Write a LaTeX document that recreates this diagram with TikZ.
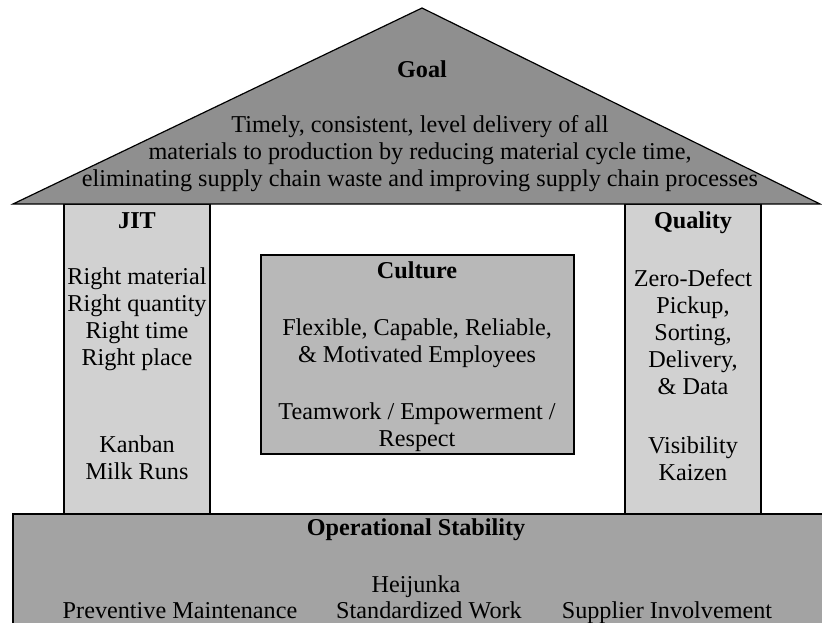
\documentclass[tikz,border=0pt]{standalone}
\usepackage{fontspec}
\setmainfont{Liberation Serif}
\definecolor{roofgray}{gray}{0.56}
\definecolor{basegray}{gray}{0.64}
\definecolor{pillargray}{gray}{0.82}
\definecolor{culturegray}{gray}{0.72}
\begin{document}
\begin{tikzpicture}[x=1pt,y=-1pt,
  txt/.style={anchor=base, align=center, inner sep=0pt, font=\fontsize{24.2}{27}\selectfont},
  head/.style={txt, font=\fontsize{24.2}{27}\selectfont\bfseries},
  part/.style={draw=black, line width=1.2pt}]
  \useasboundingbox (0,0) rectangle (822,622);

  % foundation
  \filldraw[part, fill=basegray] (13,514) rectangle (830,630);
  % pillars and culture
  \filldraw[part, fill=pillargray] (64,204) rectangle (210,514);
  \filldraw[part, fill=pillargray] (625,204) rectangle (761,514);
  \filldraw[part, fill=culturegray] (261,255) rectangle (574,454);
  % roof
  \filldraw[part, fill=roofgray, line join=miter] (13,204) -- (422,8) -- (820,204) -- cycle;

  % base anchor of a block = baseline of its last line
  \node[head] (goal) at (422,77) {Goal};
  \node[txt] (goaltext) at (420,186) {Timely, consistent, level delivery of all\\
    materials to production by reducing material cycle time,\\
    eliminating supply chain waste and improving supply chain processes};

  \node[head] (jit) at (137,228) {JIT};
  \node[txt] (right) at (137,365) {Right material\\Right quantity\\Right time\\Right place};
  \node[txt] (kanban) at (137,479) {Kanban\\Milk Runs};

  \node[head] (culture) at (417,278) {Culture};
  \node[txt] (people) at (417,362) {Flexible, Capable, Reliable,\\\& Motivated Employees};
  \node[txt] (team) at (417,446) {Teamwork / Empowerment /\\Respect};

  \node[head] (quality) at (693,228) {Quality};
  \node[txt] (zero) at (693,394) {Zero-Defect\\Pickup,\\Sorting,\\Delivery,\\\& Data};
  \node[txt] (kaizen) at (693,480) {Visibility\\Kaizen};

  \node[head] (stability) at (416,535) {Operational Stability};
  \node[txt] (heijunka) at (416,592) {Heijunka};
  \node[txt] (pm) at (180,618) {Preventive Maintenance};
  \node[txt] (sw) at (429,618) {Standardized Work};
  \node[txt] (si) at (667,618) {Supplier Involvement};
\end{tikzpicture}
\end{document}
